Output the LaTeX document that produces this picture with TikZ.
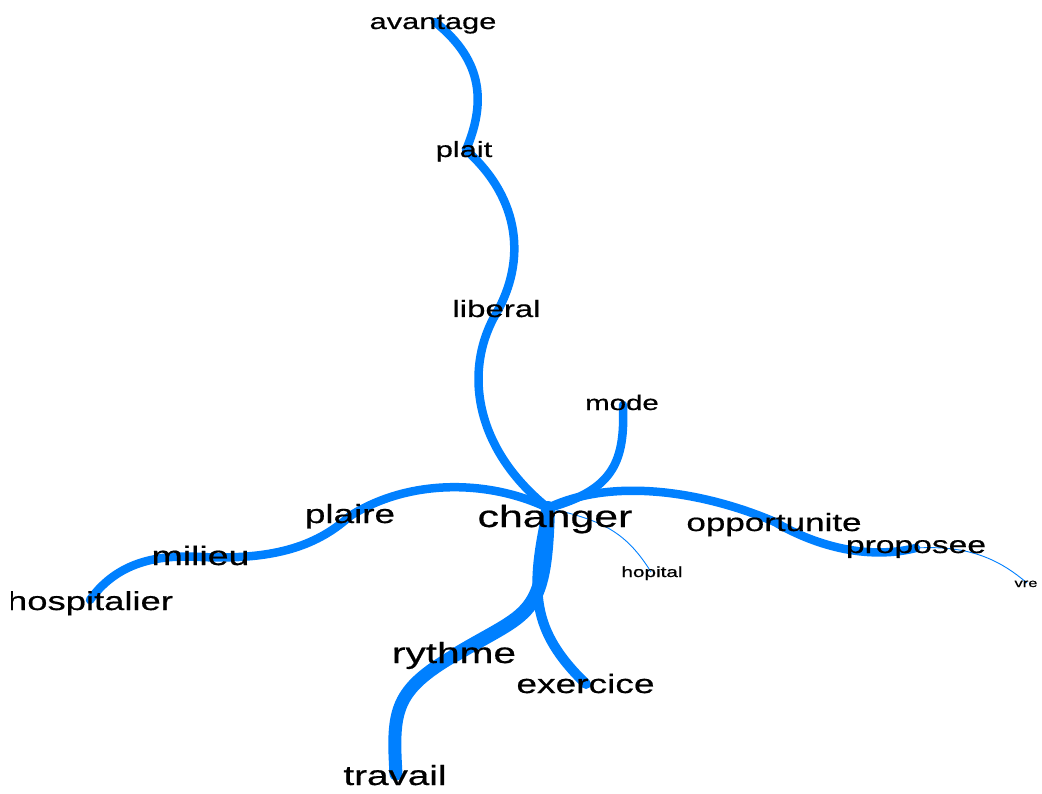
\documentclass[tikz,border=0pt]{standalone}
\usepackage{fontspec}
\setmainfont{Liberation Sans}[FakeStretch=1.4,FakeBold=0.6]
\definecolor{eblue}{RGB}{0,128,255}
\begin{document}
\begin{tikzpicture}[x=1pt,y=-1pt,
  lnk/.style={draw=eblue,line width=#1,line cap=round},
  lnk/.default=8.5,
  thinlnk/.style={draw=eblue,line width=0.9},
  lbl/.style={anchor=base,inner sep=0,text=black,font=\fontsize{#1}{#1}\selectfont}]
\useasboundingbox (0,0) rectangle (1042,794);
\fill[white] (0,0) rectangle (1042,794);
\clip (11,0) rectangle (1042,794);
% vertices
\coordinate (vchanger) at (548,508);
\coordinate (vliberal) at (497,312);
\coordinate (vplait) at (466,150);
\coordinate (vavantage) at (435,22);
\coordinate (vmode) at (623,405);
\coordinate (vplaire) at (350,516);
\coordinate (vmilieu) at (201,557);
\coordinate (vhosp) at (90,600);
\coordinate (vopp) at (775,522);
\coordinate (vprop) at (916,548);
\coordinate (vvre) at (1027,583);
\coordinate (vhopital) at (651,572);
\coordinate (vrythme) at (455,655);
\coordinate (vexercice) at (586,684);
\coordinate (vtravail) at (396,774);
% edges
\draw[lnk] (vchanger) .. controls (470,445) and (465,365) .. (vliberal);
\draw[lnk] (vliberal) .. controls (525,262) and (522,200) .. (vplait);
\draw[lnk] (vplait) .. controls (485,105) and (485,62) .. (vavantage);
\draw[lnk] (vchanger) .. controls (615,490) and (625,460) .. (vmode);
\draw[lnk] (vchanger) .. controls (490,480) and (410,478) .. (vplaire);
\draw[lnk] (vplaire) .. controls (315,548) and (270,560) .. (vmilieu);
\draw[lnk] (vmilieu) .. controls (165,555) and (120,558) .. (vhosp);
\draw[lnk] (vchanger) .. controls (610,478) and (700,490) .. (vopp);
\draw[lnk] (vopp) .. controls (805,540) and (860,562) .. (vprop);
\draw[thinlnk] (vprop) .. controls (970,545) and (1000,560) .. (vvre);
\draw[thinlnk] (vchanger) .. controls (600,520) and (625,530) .. (vhopital);
\draw[lnk=10] (vchanger) .. controls (530,590) and (530,630) .. (vexercice);
\draw[lnk=14] (vchanger) .. controls (545,620) and (530,610) .. (vrythme);
\draw[lnk=13] (vrythme) .. controls (395,690) and (392,710) .. (vtravail);
% labels
\node[lbl=22] (avantage) at (433,29) {avantage};
\node[lbl=22] (plait) at (464,157) {plait};
\node[lbl=23.6] (liberal) at (496.5,317) {liberal};
\node[lbl=21] (mode) at (622,410) {mode};
\node[lbl=30.6] (changer) at (555,527) {changer};
\node[lbl=25] (opportunite) at (774,531) {opportunite};
\node[lbl=24] (proposee) at (916,553) {proposee};
\node[lbl=11.8] (vre) at (1026,587) {vre};
\node[lbl=14.8] (hopital) at (652,577) {hopital};
\node[lbl=26.3] (plaire) at (350,523) {plaire};
\node[lbl=26.8] (milieu) at (200.5,565) {milieu};
\node[lbl=26] (hospitalier) at (90,610) {hospitalier};
\node[lbl=29] (rythme) at (454,663) {rythme};
\node[lbl=26.5] (exercice) at (585.5,693) {exercice};
\node[lbl=27.6] (travail) at (395,785) {travail};
\end{tikzpicture}
\end{document}
